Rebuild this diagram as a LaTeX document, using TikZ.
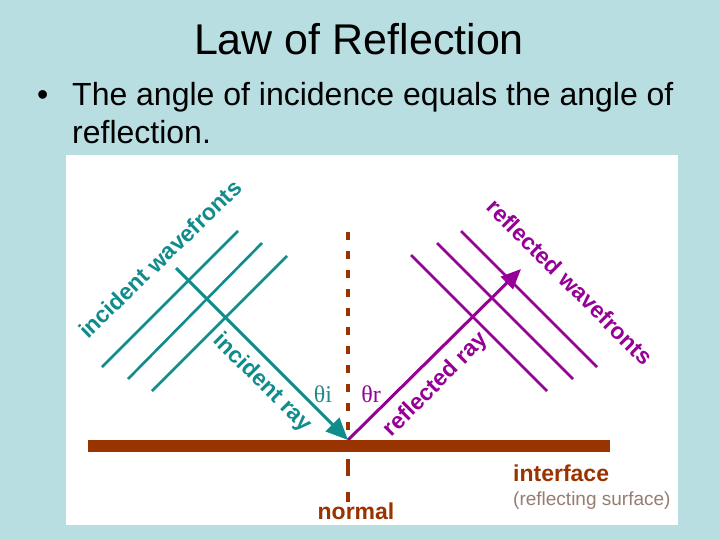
\documentclass[tikz,border=0pt]{standalone}
\usepackage{fontspec}
\setmainfont{Liberation Sans}
\newfontfamily\serifgr{Liberation Serif}
\usetikzlibrary{arrows.meta}
\definecolor{bgblue}{RGB}{184,222,226}
\definecolor{tealc}{RGB}{16,140,140}
\definecolor{purp}{RGB}{150,0,150}
\definecolor{brownc}{RGB}{153,51,0}
\definecolor{graybrown}{RGB}{150,125,115}
\tikzset{
  wave/.style={line width=2.6pt},
  ray/.style={line width=3pt},
  lbl/.style={inner sep=0pt, font=\fontsize{23}{26}\selectfont\bfseries},
}
\begin{document}
\begin{tikzpicture}[x=1pt,y=-1pt]
\fill[bgblue] (0,0) rectangle (720,540);
\useasboundingbox (0,0) rectangle (720,540);
\fill[white] (66,155) rectangle (678,525);

% title and bullet
\node[anchor=base, inner sep=0pt, font=\fontsize{43}{50}\selectfont] (title) at (359,55) {Law of Reflection};
\node[anchor=base west, inner sep=0pt, font=\fontsize{32}{38}\selectfont] (bul) at (37,106) {•};
\node[anchor=base west, inner sep=0pt, font=\fontsize{32}{38}\selectfont] (line1) at (72,106) {The angle of incidence equals the angle of};
\node[anchor=base west, inner sep=0pt, font=\fontsize{32}{38}\selectfont] (line2) at (72,144) {reflection.};

% coordinates
\coordinate (P) at (348,440);
\coordinate (Ns) at (348,232);
\coordinate (Ne) at (348,440);
\coordinate (Nb1) at (348,459);
\coordinate (Nb2) at (348,476);
\coordinate (Nb3) at (348,492);
\coordinate (Nb4) at (348,502);
\coordinate (IL) at (88,446);
\coordinate (IR) at (610,446);
\coordinate (Is) at (176,268);
\coordinate (Rt) at (521,269);

% incident wavefronts
\coordinate (iw1a) at (102,367); \coordinate (iw1b) at (238,231);
\coordinate (iw2a) at (128,379); \coordinate (iw2b) at (262,243);
\coordinate (iw3a) at (152,391); \coordinate (iw3b) at (287,256);
\draw[tealc, wave] (iw1a) -- (iw1b);
\draw[tealc, wave] (iw2a) -- (iw2b);
\draw[tealc, wave] (iw3a) -- (iw3b);

% reflected wavefronts
\coordinate (rw1a) at (411,255); \coordinate (rw1b) at (547,391);
\coordinate (rw2a) at (437,243); \coordinate (rw2b) at (573,379);
\coordinate (rw3a) at (461,231); \coordinate (rw3b) at (597,367);
\draw[purp, wave] (rw1a) -- (rw1b);
\draw[purp, wave] (rw2a) -- (rw2b);
\draw[purp, wave] (rw3a) -- (rw3b);

% normal
\draw[brownc, line width=4pt, dash pattern=on 8pt off 11pt] (Ns) -- (Ne);
\draw[brownc, line width=4pt] (Nb1) -- (Nb2);
\draw[brownc, line width=4pt] (Nb3) -- (Nb4);

% rays
\draw[tealc, ray, -{Triangle[length=22pt,width=19pt]}] (Is) -- (P);
\draw[purp, ray, -{Triangle[length=20pt,width=17pt]}] (P) -- (Rt);

% interface
\draw[brownc, line width=12pt] (IL) -- (IR);

% labels
\node[lbl, tealc, rotate=44] (liw) at (160,259) {incident wavefronts};
\node[lbl, tealc, rotate=-45] (lir) at (262,383) {incident ray};
\node[lbl, purp, rotate=45] (lrr) at (436,385) {reflected ray};
\node[lbl, purp, rotate=-45] (lrw) at (570,282) {reflected wavefronts};
\node[inner sep=0pt, text=tealc!80!gray, font=\serifgr\fontsize{24}{26}\selectfont] (thi) at (323,394) {θi};
\node[inner sep=0pt, text=purp, font=\serifgr\fontsize{24}{26}\selectfont] (thr) at (371,394) {θr};
\node[anchor=base, inner sep=0pt, text=brownc, font=\fontsize{23}{26}\selectfont\bfseries] (nrm) at (356,519) {normal};
\node[anchor=base west, inner sep=0pt, text=brownc, font=\fontsize{23}{26}\selectfont\bfseries] (itf) at (513,481) {interface};
\node[anchor=base west, inner sep=0pt, text=graybrown, font=\fontsize{19}{22}\selectfont] (rs) at (513,505) {(reflecting surface)};
\end{tikzpicture}
\end{document}
